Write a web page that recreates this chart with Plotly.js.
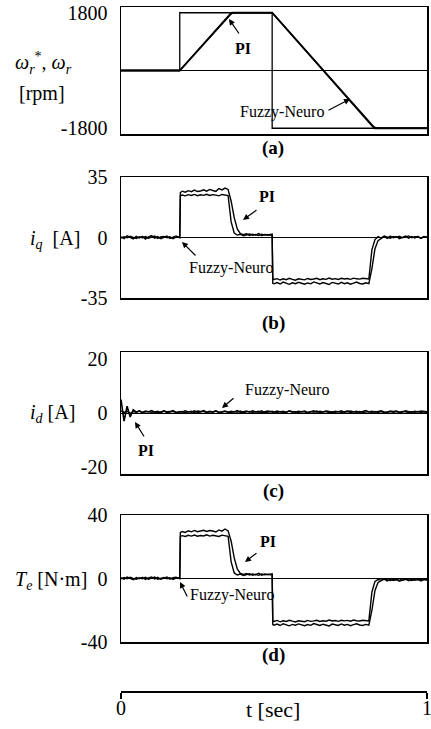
<!DOCTYPE html>
<html>
<head>
<meta charset="utf-8">
<script src="https://cdn.plot.ly/plotly-3.0.1.min.js"></script>
<style>html,body{margin:0;padding:0;background:#fff;}#chart{width:431px;height:729px;}</style>
</head>
<body>
<div id="chart"></div>
<script>
// ---------- DATA ----------
// (a) speed reference and actual speeds
const tRef = [0, 0.192, 0.192, 0.494, 0.494, 1];
const wRef = [0, 0, 1800, 1800, -1800, -1800];
const tSpdPI = [0, 0.192, 0.363, 0.494, 0.83, 1];
const wSpdPI = [0, 0, 1800, 1800, -1800, -1800];
const tSpdFN = [0, 0.192, 0.356, 0.37, 0.494, 0.823, 0.84, 1];
const wSpdFN = [0, 0, 1760, 1800, 1800, -1760, -1800, -1800];

// common time grid for currents / torque
const tCur = [0,0.01,0.02,0.03,0.04,0.05,0.06,0.07,0.08,0.09,0.10,0.11,0.12,0.13,0.14,0.15,0.16,0.17,0.18,0.192,
  0.194,0.20,0.21,0.22,0.23,0.24,0.25,0.26,0.27,0.28,0.29,0.30,0.31,0.32,0.33,0.34,0.35,
  0.36,0.37,0.38,0.39,0.40,0.41,0.42,0.43,0.44,0.45,0.46,0.47,0.48,0.494,
  0.496,0.50,0.51,0.52,0.53,0.54,0.55,0.56,0.57,0.58,0.59,0.60,0.61,0.62,0.63,0.64,0.65,0.66,0.67,0.68,0.69,0.70,0.71,0.72,0.73,0.74,0.75,0.76,0.77,0.78,0.79,0.80,0.81,
  0.82,0.83,0.84,0.85,0.86,0.87,0.88,0.89,0.90,0.91,0.92,0.93,0.94,0.95,0.96,0.97,0.98,0.99,1.00];

// (b) q-axis current [A]
const iqPI = [0.4,-0.6,0.9,0.1,-0.8,0.7,-0.3,0.6,-0.9,0.3,1.1,-0.4,0.5,-0.7,0.2,0.8,-0.5,0.4,0.9,-0.2,
  26.0,26.8,26.2,27.1,26.5,27.4,26.6,26.9,27.6,26.8,27.8,27.2,26.7,28.3,27.5,28.6,27.8,
  21.0,11.5,5.0,2.2,1.6,2.1,1.2,1.9,1.4,2.3,1.1,1.8,1.5,2.0,
  -26.5,-26.8,-26.1,-26.9,-25.8,-26.5,-27.1,-26.2,-26.7,-25.9,-26.6,-27.0,-26.3,-26.8,-25.7,-26.4,-26.9,-26.1,-26.6,-27.2,-26.0,-26.5,-26.9,-25.9,-26.7,-26.2,-27.0,-26.4,-25.8,-26.6,-26.9,-26.2,-26.7,
  -18.0,-6.5,-1.8,-0.4,0.6,-0.5,0.8,-0.2,0.5,-0.7,0.3,0.9,-0.4,0.6,-0.3,0.7,-0.6,0.4,0.1];
const iqFN = [-0.3,0.5,-0.2,0.7,0.1,-0.6,0.4,-0.1,0.6,-0.4,0.2,0.8,-0.5,0.3,0.6,-0.2,0.4,-0.7,0.2,0.5,
  24.0,24.6,24.1,24.8,24.3,24.9,24.2,24.7,24.4,25.0,24.3,24.8,24.5,24.1,24.9,24.6,24.2,
  9.0,2.6,1.4,1.9,1.0,1.6,2.0,1.3,1.7,1.1,1.9,1.4,1.6,1.2,
  -23.5,-24.3,-23.8,-24.6,-23.9,-24.4,-23.6,-24.2,-24.7,-23.9,-24.1,-24.5,-23.7,-24.3,-24.0,-23.6,-24.4,-23.9,-24.2,-23.5,-24.1,-23.8,-24.3,-23.6,-24.0,-23.7,-24.2,-23.5,-23.9,-24.1,-23.6,-23.8,-24.0,
  -7.0,-1.2,0.5,-0.3,0.8,0.2,-0.4,0.6,0.1,0.7,-0.2,0.4,0.9,-0.1,0.5,0.3,-0.3,0.6,0.2];

// (c) d-axis current [A]
const idPI = [5.0,-3.0,2.5,-1.5,1.2,0.3,0.8,0.2,0.7,0.4,0.9,0.3,0.6,0.1,0.8,0.4,0.5,0.9,0.2,0.6,
  0.5,0.3,0.8,0.4,0.6,0.2,0.7,0.5,0.9,0.3,0.6,0.4,0.8,0.2,0.5,0.7,0.3,
  0.6,0.4,0.9,0.2,0.5,0.7,0.3,0.8,0.4,0.6,0.2,0.5,0.7,0.4,
  0.5,0.3,0.7,0.4,0.6,0.2,0.8,0.5,0.3,0.6,0.4,0.7,0.2,0.5,0.8,0.3,0.6,0.4,0.7,0.5,0.2,0.6,0.4,0.8,0.3,0.5,0.7,0.4,0.6,0.2,0.5,0.9,0.4,
  0.6,0.3,0.5,0.8,0.4,0.2,0.6,0.5,0.7,0.3,0.4,0.8,0.5,0.3,0.6,0.4,0.7,0.5,0.4];
const idFN = [0.8,0.2,0.6,-0.1,0.5,0.3,0.7,0.1,0.4,0.6,0.2,0.5,0.0,0.4,0.7,0.2,0.3,0.6,0.1,0.5,
  0.4,0.6,0.1,0.5,0.3,0.8,0.2,0.4,0.6,0.1,0.5,0.3,0.7,0.2,0.4,0.6,0.3,
  0.2,0.5,0.3,0.7,0.1,0.4,0.6,0.2,0.5,0.3,0.8,0.1,0.4,0.6,
  0.3,0.5,0.2,0.6,0.1,0.4,0.7,0.3,0.5,0.2,0.6,0.4,0.1,0.5,0.3,0.7,0.2,0.4,0.6,0.1,0.5,0.3,0.6,0.2,0.4,0.7,0.1,0.5,0.3,0.6,0.2,0.4,0.5,
  0.3,0.6,0.2,0.5,0.1,0.4,0.7,0.3,0.5,0.2,0.6,0.4,0.1,0.5,0.3,0.6,0.2,0.4,0.3];

// (d) electromagnetic torque [N·m]
const tePI = [0.5,-0.4,0.9,0.2,-0.7,0.6,-0.2,0.8,-0.6,0.4,1.0,-0.3,0.7,-0.5,0.3,0.9,-0.4,0.5,0.8,-0.1,
  29.0,29.6,29.0,30.1,29.4,30.3,29.5,29.8,30.4,29.6,30.2,29.9,29.3,30.6,29.8,31.2,30.0,
  23.5,13.0,6.0,3.2,2.6,3.1,2.2,2.9,2.4,3.3,2.1,2.8,2.5,3.0,
  -29.0,-29.4,-28.7,-29.6,-28.5,-29.2,-29.8,-28.9,-29.4,-28.6,-29.3,-29.7,-29.0,-29.5,-28.4,-29.1,-29.6,-28.8,-29.3,-29.9,-28.7,-29.2,-29.6,-28.6,-29.4,-28.9,-29.7,-29.1,-28.5,-29.3,-29.6,-28.9,-29.4,
  -20.0,-7.5,-2.5,-1.2,-0.4,-1.5,-0.6,-1.3,-0.5,-1.7,-0.8,-0.2,-1.4,-0.6,-1.1,-0.3,-1.6,-0.7,-0.9];
const teFN = [-0.3,0.6,-0.2,0.8,0.1,-0.5,0.4,-0.1,0.7,-0.4,0.2,0.9,-0.5,0.3,0.6,-0.2,0.5,-0.6,0.3,0.4,
  26.5,27.0,26.5,27.2,26.7,27.4,26.6,27.1,26.8,27.5,26.7,27.2,26.9,26.5,27.3,27.0,26.6,
  10.5,3.5,2.2,2.8,1.9,2.5,3.0,2.1,2.6,2.0,2.9,2.3,2.6,2.2,
  -26.5,-27.0,-26.4,-27.3,-26.6,-27.1,-26.3,-26.9,-27.4,-26.6,-26.8,-27.2,-26.4,-27.0,-26.7,-26.3,-27.1,-26.6,-26.9,-26.2,-26.8,-26.5,-27.0,-26.3,-26.7,-26.4,-26.9,-26.2,-26.6,-26.8,-26.3,-26.5,-26.7,
  -8.5,-1.8,-0.6,-1.0,-0.2,-0.8,-1.3,-0.4,-0.9,-0.1,-1.1,-0.5,-0.7,-1.2,-0.3,-0.9,-0.6,-0.4,-0.8];

// tick labels
const ticksA = [1800, -1800], ticksAtxt = ['1800', '-1800'];
const ticksB = [35, 0, -35], ticksBtxt = ['35', '0', '-35'];
const ticksC = [20, 0, -20], ticksCtxt = ['20', '0', '-20'];
const ticksD = [40, 0, -40], ticksDtxt = ['40', '0', '-40'];
const ticksT = [0, 1], ticksTtxt = ['0', '1'];

// ---------- LAYOUT ----------
const W = 431, H = 729;
const FONT = 'Liberation Serif, Times New Roman, serif';
const px = x => x / W;
const py = y => 1 - y / H;

function line(x, y, xa, ya, w) {
  return {x: x, y: y, xaxis: xa, yaxis: ya, type: 'scatter', mode: 'lines',
    line: {color: '#000', width: w}, hoverinfo: 'skip', showlegend: false};
}

const traces = [
  line(tRef, wRef, 'x', 'y', 1.3),
  line(tSpdFN, wSpdFN, 'x', 'y', 1.4),
  line(tSpdPI, wSpdPI, 'x', 'y', 1.8),
  line(tCur, iqFN, 'x2', 'y2', 1.4),
  line(tCur, iqPI, 'x2', 'y2', 1.4),
  line(tCur, idFN, 'x3', 'y3', 1.4),
  line(tCur, idPI, 'x3', 'y3', 1.6),
  line(tCur, teFN, 'x4', 'y4', 1.4),
  line(tCur, tePI, 'x4', 'y4', 1.4),
  {x: [], y: [], xaxis: 'x5', yaxis: 'y5', type: 'scatter', mode: 'lines', showlegend: false}
];

const xDom = [121 / W, 427 / W];
function xax(anchor) {
  return {domain: xDom, range: [0, 1], anchor: anchor, showline: true, linecolor: '#000', linewidth: 1.5,
    mirror: true, showgrid: false, zeroline: false, ticks: '', showticklabels: false, fixedrange: true, automargin: false};
}
function yax(anchor, top, bottom, rng, tv, tt) {
  return {domain: [py(bottom), py(top)], range: rng, anchor: anchor, showline: true, linecolor: '#000', linewidth: 1.5,
    mirror: true, showgrid: false, zeroline: true, zerolinecolor: '#000', zerolinewidth: 1,
    ticks: '', tickvals: tv, ticktext: tt, ticklabelstandoff: 8,
    tickfont: {family: FONT, size: 20, color: '#000'}, fixedrange: true, automargin: false};
}

function txt(x, y, text, size, bold) {
  return {xref: 'paper', yref: 'paper', x: px(x), y: py(y), text: bold ? '<b>' + text + '</b>' : text,
    showarrow: false, xanchor: 'center', yanchor: 'middle',
    font: {family: FONT, size: size, color: '#000'}};
}
function arr(tipX, tipY, tailX, tailY) {
  return {xref: 'paper', yref: 'paper', x: px(tipX), y: py(tipY), ax: tailX - tipX, ay: tailY - tipY,
    text: '', showarrow: true, arrowhead: 2, arrowsize: 1, arrowwidth: 1.2, arrowcolor: '#000',
    standoff: 0, startstandoff: 0};
}

const annotations = [
  // axis titles
  txt(43, 63, '<i>ω</i><sub><i>r</i></sub><sup>*</sup>, <i>ω</i><sub><i>r</i></sub>', 20),
  txt(42, 94, '[rpm]', 20),
  txt(55, 239, '<i>i</i><sub><i>q</i></sub>  [A]', 20),
  txt(52, 413, '<i>i</i><sub><i>d</i></sub> [A]', 20),
  txt(51, 580, '<i>T</i><sub><i>e</i></sub> [N·m]', 20),
  // panel labels
  txt(273, 148, '(a)', 19, true),
  txt(273, 323, '(b)', 19, true),
  txt(273, 491, '(c)', 19, true),
  txt(273, 655, '(d)', 19, true),
  txt(273, 709, 't [sec]', 22),
  // series labels
  txt(243, 48, 'PI', 16, true),
  txt(282, 112, 'Fuzzy-Neuro', 16),
  txt(267, 197, 'PI', 16, true),
  txt(231, 268, 'Fuzzy-Neuro', 16),
  txt(287, 390, 'Fuzzy-Neuro', 16),
  txt(146, 450, 'PI', 16, true),
  txt(268, 541, 'PI', 16, true),
  txt(232, 595, 'Fuzzy-Neuro', 16),
  // arrows
  arr(229, 19, 240, 35),
  arr(350, 99, 327, 111),
  arr(243, 220, 258, 209),
  arr(182, 242, 197, 257),
  arr(222, 408, 235, 397),
  arr(135, 422, 145, 438),
  arr(245, 562, 258, 552),
  arr(180, 582, 188, 598)
];

const layout = {
  width: W, height: H,
  margin: {l: 0, r: 0, t: 0, b: 0, pad: 0},
  paper_bgcolor: '#fff', plot_bgcolor: '#fff',
  showlegend: false,
  font: {family: FONT, color: '#000'},
  xaxis: xax('y'), xaxis2: xax('y2'), xaxis3: xax('y3'), xaxis4: xax('y4'),
  yaxis: yax('x', 7, 134, [-1980, 1980], ticksA, ticksAtxt),
  yaxis2: yax('x2', 177, 298, [-35, 35], ticksB, ticksBtxt),
  yaxis3: yax('x3', 352, 474, [-22.6, 22.6], ticksC, ticksCtxt),
  yaxis4: yax('x4', 515, 642, [-40, 40], ticksD, ticksDtxt),
  xaxis5: {domain: xDom, range: [0, 1], anchor: 'y5', showline: true, linecolor: '#000', linewidth: 1.5,
    showgrid: false, zeroline: false, ticks: 'outside', ticklen: 6, tickwidth: 1.5, tickcolor: '#000',
    tickvals: ticksT, ticktext: ticksTtxt, tickfont: {family: FONT, size: 20, color: '#000'},
    ticklabelstandoff: -8, ticklabeloverflow: 'allow',
    fixedrange: true, automargin: false},
  yaxis5: {domain: [py(691), py(685)], range: [0, 1], anchor: 'x5', visible: false, fixedrange: true},
  annotations: annotations
};

Plotly.newPlot('chart', traces, layout, {staticPlot: true, displayModeBar: false});
</script>
</body>
</html>
